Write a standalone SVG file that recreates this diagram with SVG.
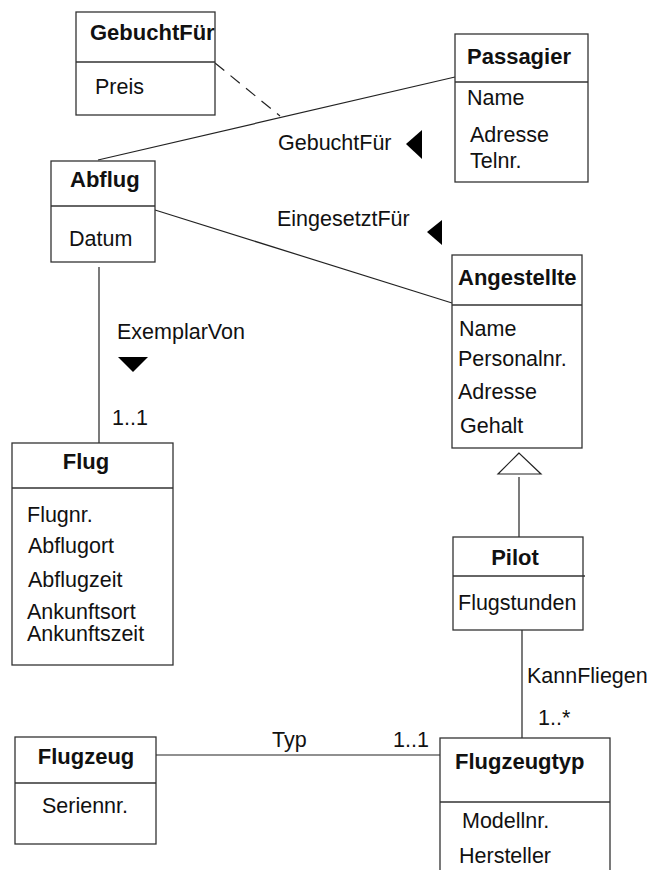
<svg xmlns="http://www.w3.org/2000/svg" width="651" height="870" viewBox="0 0 651 870">
<style>
  .box { fill: #fff; stroke: #333; stroke-width: 1.3; }
  .div { stroke: #333; stroke-width: 1.3; fill: none; }
  .ln { stroke: #222; stroke-width: 1.2; fill: none; }
  .dash { stroke: #222; stroke-width: 1.2; fill: none; stroke-dasharray: 12 8; }
  text { font-family: "Liberation Sans", Arial, sans-serif; font-size: 21.5px; fill: #111; }
  .t { font-weight: bold; font-size: 22px; }
  .c { text-anchor: middle; }
  .arr { fill: #000; }
  .gen { fill: #fff; stroke: #222; stroke-width: 1.2; }
</style>
<rect width="651" height="870" fill="#fff"/>

<g id="connectors">
  <line class="ln" x1="455" y1="77" x2="98" y2="160"/>
  <line class="dash" x1="215" y1="63" x2="280" y2="116"/>
  <line class="ln" x1="155" y1="210" x2="452" y2="303"/>
  <line class="ln" x1="99" y1="267" x2="99" y2="443"/>
  <polygon class="gen" points="519,453 498,474 541,474"/>
  <line class="ln" x1="519" y1="477" x2="519" y2="537"/>
  <line class="ln" x1="522" y1="630" x2="522" y2="738"/>
  <line class="ln" x1="156" y1="755" x2="440" y2="755"/>
  <text x="278" y="150">GebuchtFür</text>
  <polygon class="arr" points="406,144 422,130 422,159"/>
  <text x="277" y="226">EingesetztFür</text>
  <polygon class="arr" points="427,232 442,220 442,245"/>
  <text x="117" y="339">ExemplarVon</text>
  <polygon class="arr" points="118,357 148,357 133,372"/>
  <text x="112" y="425">1..1</text>
  <text x="527" y="683">KannFliegen</text>
  <text x="538" y="725">1..*</text>
  <text x="272" y="747">Typ</text>
  <text x="393" y="747">1..1</text>
</g>

<g id="GebuchtFuer">
  <rect class="box" x="76" y="12" width="139" height="103"/>
  <line class="div" x1="76" y1="62" x2="215" y2="62"/>
  <text class="t" x="90" y="40">GebuchtFür</text>
  <text x="95" y="94">Preis</text>
</g>

<g id="Passagier">
  <rect class="box" x="455" y="34" width="133" height="148"/>
  <line class="div" x1="455" y1="82" x2="588" y2="82"/>
  <text class="t" x="467" y="64">Passagier</text>
  <text x="467" y="105">Name</text>
  <text x="470" y="142">Adresse</text>
  <text x="470" y="168">Telnr.</text>
</g>

<g id="Abflug">
  <rect class="box" x="51" y="161" width="104" height="101"/>
  <line class="div" x1="51" y1="206" x2="155" y2="206"/>
  <text class="t" x="70" y="187">Abflug</text>
  <text x="69" y="246">Datum</text>
</g>

<g id="Angestellte">
  <rect class="box" x="452" y="255" width="130" height="193"/>
  <line class="div" x1="452" y1="305" x2="582" y2="305"/>
  <text class="t" x="458" y="285">Angestellte</text>
  <text x="459" y="336">Name</text>
  <text x="458" y="366">Personalnr.</text>
  <text x="458" y="399">Adresse</text>
  <text x="460" y="433">Gehalt</text>
</g>

<g id="Flug">
  <rect class="box" x="12" y="443" width="161" height="222"/>
  <line class="div" x1="12" y1="488" x2="173" y2="488"/>
  <text class="t c" x="86" y="469">Flug</text>
  <text x="27" y="522">Flugnr.</text>
  <text x="28" y="553">Abflugort</text>
  <text x="28" y="587">Abflugzeit</text>
  <text x="27" y="619">Ankunftsort</text>
  <text x="27" y="641">Ankunftszeit</text>
</g>

<g id="Pilot">
  <rect class="box" x="453" y="537" width="130" height="93"/>
  <line class="div" x1="453" y1="576" x2="585" y2="576"/>
  <text class="t c" x="515" y="565">Pilot</text>
  <text x="458" y="610">Flugstunden</text>
</g>

<g id="Flugzeug">
  <rect class="box" x="15" y="737" width="141" height="107"/>
  <line class="div" x1="15" y1="783" x2="156" y2="783"/>
  <text class="t c" x="86" y="764">Flugzeug</text>
  <text class="c" x="85" y="813">Seriennr.</text>
</g>

<g id="Flugzeugtyp">
  <rect class="box" x="440" y="738" width="170" height="150"/>
  <line class="div" x1="440" y1="802" x2="610" y2="802"/>
  <text class="t" x="455" y="769">Flugzeugtyp</text>
  <text x="462" y="828">Modellnr.</text>
  <text x="459" y="863">Hersteller</text>
</g>
</svg>
